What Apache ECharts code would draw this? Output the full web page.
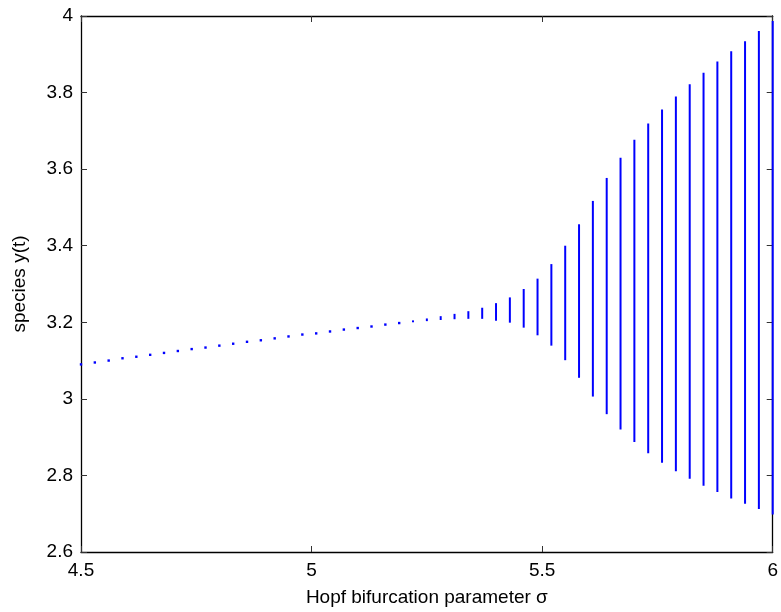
<!DOCTYPE html>
<html>
<head>
<meta charset="utf-8">
<script src="https://cdn.jsdelivr.net/npm/echarts@6/dist/echarts.min.js"></script>
<style>
  html, body { margin: 0; padding: 0; background: #fff; }
  #chart { width: 781px; height: 612px; }
</style>
</head>
<body>
<div id="chart"></div>
<script>
// Bifurcation parameter values
const sigma = [
  4.50, 4.53, 4.56, 4.59, 4.62, 4.65, 4.68, 4.71, 4.74, 4.77,
  4.80, 4.83, 4.86, 4.89, 4.92, 4.95, 4.98, 5.01, 5.04, 5.07,
  5.10, 5.13, 5.16, 5.19, 5.22, 5.25, 5.28, 5.31, 5.34, 5.37,
  5.40, 5.43, 5.46, 5.49, 5.52, 5.55, 5.58, 5.61, 5.64, 5.67,
  5.70, 5.73, 5.76, 5.79, 5.82, 5.85, 5.88, 5.91, 5.94, 5.97, 6.00
];
// Minimum of y(t) on the attractor for each sigma
const yMin = [
  3.090, 3.095, 3.100, 3.106, 3.110, 3.115, 3.120, 3.125, 3.130, 3.134,
  3.139, 3.144, 3.149, 3.153, 3.158, 3.163, 3.168, 3.171, 3.176, 3.181,
  3.185, 3.189, 3.194, 3.198, 3.200, 3.203, 3.206, 3.208, 3.209, 3.209,
  3.204, 3.199, 3.186, 3.166, 3.139, 3.101, 3.055, 3.006, 2.960, 2.920,
  2.887, 2.858, 2.833, 2.811, 2.791, 2.773, 2.757, 2.740, 2.726, 2.712, 2.698
];
// Maximum of y(t) on the attractor for each sigma
const yMax = [
  3.090, 3.095, 3.100, 3.106, 3.110, 3.115, 3.120, 3.125, 3.130, 3.134,
  3.139, 3.144, 3.149, 3.153, 3.158, 3.163, 3.168, 3.171, 3.176, 3.181,
  3.185, 3.189, 3.194, 3.198, 3.205, 3.210, 3.216, 3.222, 3.229, 3.238,
  3.250, 3.265, 3.287, 3.314, 3.352, 3.400, 3.456, 3.517, 3.577, 3.630,
  3.677, 3.719, 3.756, 3.790, 3.822, 3.852, 3.881, 3.908, 3.934, 3.961, 3.987
];

const xTicks = { min: 4.5, max: 6, interval: 0.5 };
const yTicks = { min: 2.6, max: 4, interval: 0.2 };

const data = sigma.map((s, i) => [s, yMin[i], yMax[i]]);

const FONT = 'Liberation Sans, Arial, Helvetica, sans-serif';
const BLUE = '#0000ff';

function renderItem(params, api) {
  const x = api.value(0);
  const lo = api.value(1);
  const hi = api.value(2);
  const p1 = api.coord([x, lo]);
  const p2 = api.coord([x, hi]);
  if (hi - lo < 1e-9) {
    // stable equilibrium: a single point
    return {
      type: 'rect',
      shape: { x: p1[0] - 1.2, y: p1[1] - 1.2, width: 2.4, height: 2.4 },
      style: { fill: BLUE }
    };
  }
  // limit cycle: vertical range between min and max
  return {
    type: 'line',
    shape: { x1: p1[0], y1: p1[1], x2: p2[0], y2: p2[1] },
    style: { stroke: BLUE, lineWidth: 2 }
  };
}

const axisLine = { show: true, lineStyle: { color: '#000', width: 1.3 } };
const axisTick = { show: true, inside: true, length: 6, lineStyle: { color: '#333', width: 1 } };

const chart = echarts.init(document.getElementById('chart'), null, { renderer: 'canvas' });
chart.setOption({
  animation: false,
  backgroundColor: '#fff',
  grid: { left: 81, right: 5, top: 16, bottom: 57, containLabel: false },
  xAxis: [
    {
      type: 'value',
      min: xTicks.min, max: xTicks.max, interval: xTicks.interval,
      position: 'bottom',
      name: 'Hopf bifurcation parameter σ',
      nameLocation: 'middle',
      nameGap: 36,
      nameTextStyle: { fontFamily: FONT, fontSize: 19, color: '#000' },
      axisLine, axisTick,
      axisLabel: { fontFamily: FONT, fontSize: 19, color: '#000', margin: 9 },
      splitLine: { show: false }
    },
    {
      type: 'value',
      min: xTicks.min, max: xTicks.max, interval: xTicks.interval,
      position: 'top',
      axisLine, axisTick,
      axisLabel: { show: false },
      splitLine: { show: false }
    }
  ],
  yAxis: [
    {
      type: 'value',
      min: yTicks.min, max: yTicks.max, interval: yTicks.interval,
      position: 'left',
      name: 'species y(t)',
      nameLocation: 'middle',
      nameGap: 52,
      nameRotate: 90,
      nameTextStyle: { fontFamily: FONT, fontSize: 19, color: '#000' },
      axisLine, axisTick,
      axisLabel: { fontFamily: FONT, fontSize: 19, color: '#000', margin: 8 },
      splitLine: { show: false }
    },
    {
      type: 'value',
      min: yTicks.min, max: yTicks.max, interval: yTicks.interval,
      position: 'right',
      axisLine, axisTick,
      axisLabel: { show: false },
      splitLine: { show: false }
    }
  ],
  series: [
    {
      type: 'custom',
      renderItem: renderItem,
      data: data,
      encode: { x: 0, y: [1, 2] },
      clip: false
    }
  ]
});
</script>
</body>
</html>
